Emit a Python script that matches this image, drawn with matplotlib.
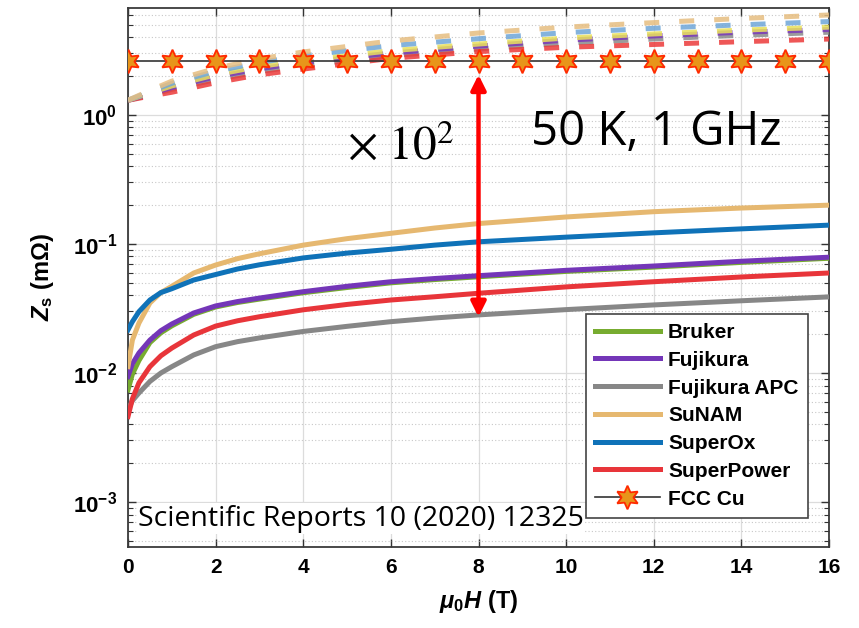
import numpy as np
import matplotlib
matplotlib.use('Agg')
import matplotlib.pyplot as plt
from matplotlib.ticker import FixedLocator, FixedFormatter, LogLocator, NullFormatter

plt.rcParams['font.family'] = ['Liberation Sans']
plt.rcParams['mathtext.fontset'] = 'custom'
plt.rcParams['mathtext.rm'] = 'Liberation Sans:bold'
plt.rcParams['mathtext.bf'] = 'Liberation Sans:bold'
plt.rcParams['mathtext.it'] = 'Liberation Sans:italic:bold'

# solid curves (Zs in mOhm)
x_solid = [0, 0.1, 0.25, 0.5, 0.75, 1, 1.5, 2, 2.5, 3, 4, 5, 6, 7, 8, 10, 12, 14, 16]
bruker = [0.0074, 0.0098, 0.0125, 0.0172, 0.0205, 0.0232, 0.0285, 0.0325, 0.0352, 0.0374,
          0.0419, 0.046, 0.050, 0.053, 0.0557, 0.0613, 0.0662, 0.072, 0.0775]
fujikura = [0.0094, 0.0118, 0.0143, 0.018, 0.0213, 0.024, 0.0292, 0.0331, 0.0358, 0.0381,
            0.0427, 0.047, 0.051, 0.054, 0.0568, 0.0625, 0.0675, 0.0735, 0.079]
fujikura_apc = [0.0052, 0.0061, 0.0070, 0.0086, 0.0100, 0.0112, 0.0138, 0.016, 0.0175, 0.0187,
                0.021, 0.023, 0.025, 0.0267, 0.0282, 0.031, 0.0337, 0.0363, 0.0389]
sunam = [0.0112, 0.018, 0.0244, 0.0349, 0.042, 0.047, 0.0596, 0.0687, 0.077, 0.084,
         0.098, 0.110, 0.121, 0.133, 0.144, 0.162, 0.178, 0.19, 0.2]
superox = [0.0216, 0.025, 0.0299, 0.0368, 0.042, 0.045, 0.0526, 0.058, 0.064, 0.069,
           0.078, 0.085, 0.091, 0.098, 0.104, 0.113, 0.122, 0.131, 0.14]
superpower = [0.0046, 0.0063, 0.0084, 0.0112, 0.0136, 0.0156, 0.0197, 0.0231, 0.0254, 0.0273,
              0.0309, 0.034, 0.0368, 0.039, 0.0415, 0.0465, 0.051, 0.0555, 0.0596]

# dashed curves (x10^2)
x_dash = [0, 0.5, 1, 2, 3, 4, 6, 8, 10, 12, 14, 16]
bruker_d = [1.3, 1.48, 1.68, 2.05, 2.38, 2.65, 3.15, 3.55, 3.95, 4.25, 4.55, 4.8]
fujikura_d = [1.3, 1.46, 1.63, 1.98, 2.28, 2.55, 3.02, 3.42, 3.8, 4.1, 4.38, 4.6]
fujikura_apc_d = [1.3, 1.43, 1.58, 1.88, 2.17, 2.42, 2.88, 3.25, 3.6, 3.88, 4.15, 4.38]
sunam_d = [1.3, 1.55, 1.83, 2.3, 2.72, 3.08, 3.75, 4.32, 4.8, 5.2, 5.6, 5.96]
superox_d = [1.3, 1.52, 1.76, 2.18, 2.55, 2.88, 3.45, 3.9, 4.35, 4.7, 5.0, 5.3]
superpower_d = [1.3, 1.4, 1.5, 1.78, 2.05, 2.27, 2.75, 3.1, 3.35, 3.52, 3.7, 3.88]

# FCC Cu
x_cu = list(range(0, 17))
cu = [2.62] * 17

names = ['Bruker', 'Fujikura', 'Fujikura APC', 'SuNAM', 'SuperOx', 'SuperPower']
colors = ['#77ac30', '#7436b8', '#878787', '#e6b870', '#0f72b8', '#e8353a']
solid = [bruker, fujikura, fujikura_apc, sunam, superox, superpower]
dashed = [bruker_d, fujikura_d, fujikura_apc_d, sunam_d, superox_d, superpower_d]
dash_colors = ['#e8e05a', '#7b3ab8', '#8a8a8a', '#e6bd80', '#6fa6d8', '#ec3a3a']

fig = plt.figure(figsize=(8.59, 6.28), dpi=100)
ax = fig.add_axes([128 / 859, 1 - 547 / 628, 701 / 859, 539 / 628])

for name, c, y in zip(names, colors, solid):
    ax.plot(x_solid, y, color=c, lw=3.6, label=name, zorder=3, solid_joinstyle='round')

dash_order = [2, 5, 1, 0, 4, 3]
for i in dash_order:
    ax.plot(x_dash, dashed[i], color=dash_colors[i], lw=3.6, alpha=0.85,
            dashes=(3, 4), dash_capstyle='butt', zorder=3)

ax.plot(x_cu, cu, color='#333333', lw=1.2, marker=(6, 1, 0), markersize=17,
        markerfacecolor='#e8951a', markeredgecolor='#ff2a00', markeredgewidth=1.3,
        label='FCC Cu', zorder=5)

ax.annotate('', xy=(8, 0.0272), xytext=(8, 2.05),
            arrowprops=dict(arrowstyle='<|-|>', color='#ff0000', lw=3.2,
                            mutation_scale=22, shrinkA=0, shrinkB=0), zorder=6)

ax.set_yscale('log')
ax.set_xlim(0, 16)
ax.set_ylim(4.48e-4, 6.75)

ax.set_xticks(range(0, 17, 2))
ax.set_xticklabels([str(v) for v in range(0, 17, 2)], fontweight='bold', fontsize=15)
ax.yaxis.set_major_locator(FixedLocator([1e-3, 1e-2, 1e-1, 1e0]))
ax.yaxis.set_major_formatter(FixedFormatter([r'$\mathbf{10^{-3}}$', r'$\mathbf{10^{-2}}$',
                                             r'$\mathbf{10^{-1}}$', r'$\mathbf{10^{0}}$']))
ax.yaxis.set_minor_locator(LogLocator(base=10, subs=np.arange(2, 10)))
ax.yaxis.set_minor_formatter(NullFormatter())
ax.tick_params(axis='y', labelsize=16)

ax.tick_params(which='both', direction='in', top=True, right=True, color='#333333')
ax.tick_params(which='major', length=6, width=1.0, pad=8)
ax.tick_params(which='minor', length=3.5, width=0.8)

ax.grid(True, which='major', color='#dcdcdc', lw=0.9, zorder=0)
ax.grid(True, which='minor', axis='y', color='#c8c8c8', lw=0.8, ls=(0, (1, 2)), zorder=0)
ax.set_axisbelow(True)
for s in ax.spines.values():
    s.set_color('#3a3a3a')
    s.set_linewidth(1.3)

ax.set_xlabel(r'$\mu_{0}H$ (T)', fontsize=17, fontweight='bold', labelpad=8)
ax.set_ylabel(r'$Z_{\mathrm{s}}$ (m$\Omega$)', fontsize=17, fontweight='bold', labelpad=12)

ax.text(7.45, 0.56, r'$\times\ 10^{2}$', fontsize=34, math_fontfamily='stix',
        ha='right', va='center', zorder=7)
ax.text(9.2, 0.74, '50 K, 1 GHz', fontsize=34, family='Open Sans',
        ha='left', va='center', zorder=7)
ax.text(0.23, 7.4e-4, 'Scientific Reports 10 (2020) 12325', fontsize=20.5,
        family='Open Sans', ha='left', va='center', zorder=8,
        bbox=dict(facecolor='white', edgecolor='none', pad=1))

leg = ax.legend(loc='lower right', bbox_to_anchor=(0.97, 0.054), borderaxespad=0,
                prop={'weight': 'bold', 'size': 15}, handlelength=3.1,
                handletextpad=0.4, labelspacing=0.42, borderpad=0.45,
                fancybox=False, framealpha=1, edgecolor='#444444')
leg.get_frame().set_linewidth(1.2)
leg.set_zorder(9)

fig.savefig('out.png', dpi=100)
